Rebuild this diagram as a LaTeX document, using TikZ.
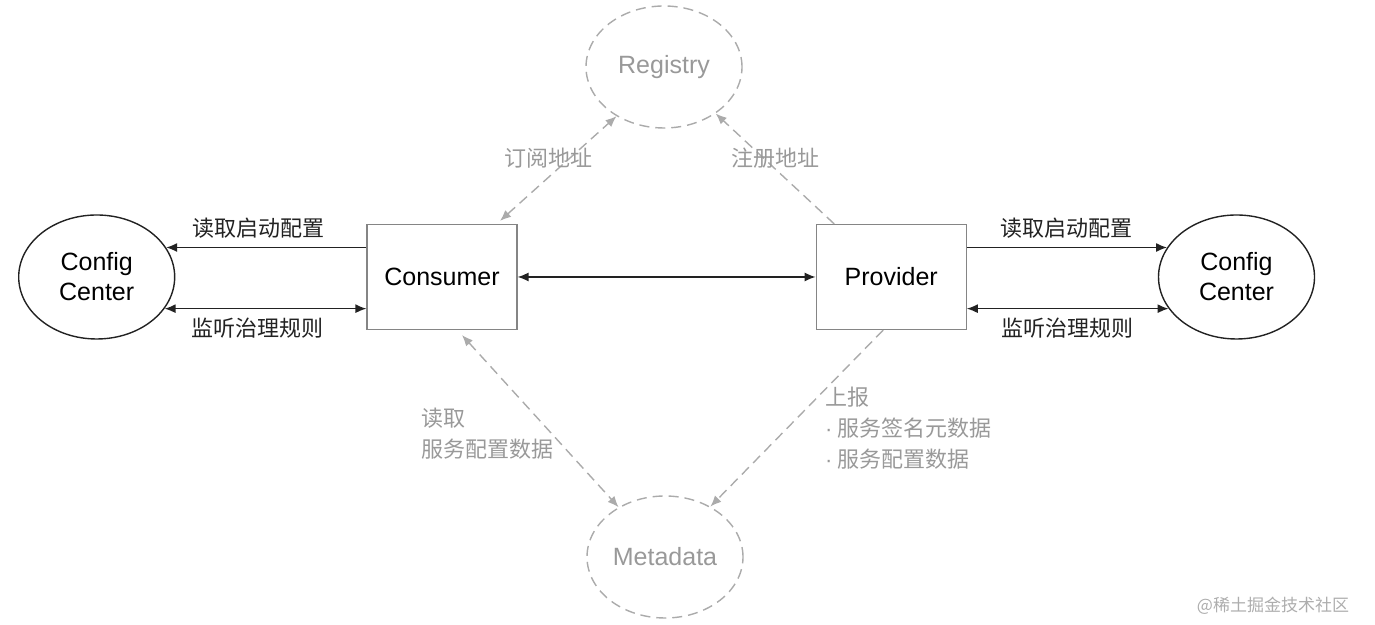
\documentclass[tikz,border=0pt]{standalone}
\usepackage{fontspec}
\setmainfont{Liberation Sans}
\newfontfamily\cjk{Noto Sans CJK SC}
\usetikzlibrary{arrows.meta,positioning,shapes.geometric}
\definecolor{ink}{HTML}{222222}
\definecolor{frame}{HTML}{858585}
\definecolor{faint}{HTML}{ABABAB}
\definecolor{note}{HTML}{999999}
\newcommand{\dotitem}{{\rmfamily\char"00B7}\ }

\begin{document}
\begin{tikzpicture}[x=0.5pt,y=0.5pt,>={Latex[length=5.5pt,width=4.5pt]},
    box/.style={draw=frame,line width=0.6pt,minimum width=75pt,minimum height=52.5pt,inner sep=0pt,font=\fontsize{12.5}{15}\selectfont},
    cfg/.style={draw=ink,ellipse,line width=0.7pt,minimum width=78pt,minimum height=62pt,inner sep=0pt,align=center,font=\fontsize{12.5}{15}\selectfont},
    store/.style={draw=faint,ellipse,line width=0.7pt,dash pattern=on 5pt off 3pt,minimum width=78pt,minimum height=61pt,inner sep=0pt,text=note,font=\fontsize{12.5}{15}\selectfont},
    link/.style={draw=ink,line width=0.7pt},
    weak/.style={draw=faint,line width=0.7pt,dash pattern=on 5pt off 3pt},
    lbl/.style={font=\cjk\fontsize{11}{15.5}\selectfont,text=ink},
    dim/.style={font=\cjk\fontsize{11}{15.5}\selectfont,text=note}]
    \useasboundingbox (0,0) rectangle (1375,625);
    % main boxes
    \node[box] (cons) at (442,348) {Consumer};
    \node[box,right=149pt of cons] (prov) {Provider};
    \node[cfg,left=95.5pt of cons] (ccl) {Config\\Center};
    \node[cfg,right=95.5pt of prov] (ccr) {Config\\Center};
    \node[store] (reg) at (664,558) {Registry};
    \node[store] (meta) at (665,68) {Metadata};
    % config center links
    \draw[link,->] (cons.west |- ccl.23) -- node[lbl,above=1pt,xshift=-4pt] {读取启动配置} (ccl.23);
    \draw[link,<->] (ccl.-25) -- node[lbl,below=1pt,xshift=-4pt] {监听治理规则} (cons.west |- ccl.-25);
    \draw[link,->] (prov.east |- ccr.157) -- node[lbl,above=1pt] {读取启动配置} (ccr.157);
    \draw[link,<->] (prov.east |- ccr.-155) -- node[lbl,below=1pt] {监听治理规则} (ccr.-155);
    \draw[link,<->] (cons) -- (prov);
    % registry and metadata
    \draw[weak,<->] ([xshift=29pt,yshift=1.5pt]cons.north) -- (reg.226);
    \draw[weak,->] ([xshift=-28.5pt]prov.north) -- (reg.318);
    \draw[weak,<->] ([xshift=10pt,yshift=-2.5pt]cons.south) -- (meta.133);
    \draw[weak,->] ([xshift=-4pt]prov.south) -- (meta.48);
    \node[dim] (sub) at (548,467) {订阅地址};
    \node[dim] (pub) at (775,467) {注册地址};
    \node[dim,anchor=west,align=left] (rd) at (414,191) {读取\\服务配置数据};
    \node[dim,anchor=west,align=left] (rp) at (818,197) {上报\\\dotitem 服务签名元数据\\\dotitem 服务配置数据};
    \node[font=\cjk\fontsize{8.5}{10}\selectfont,text=note!80] (mark) at (1273,19) {@稀土掘金技术社区};
\end{tikzpicture}
\end{document}
